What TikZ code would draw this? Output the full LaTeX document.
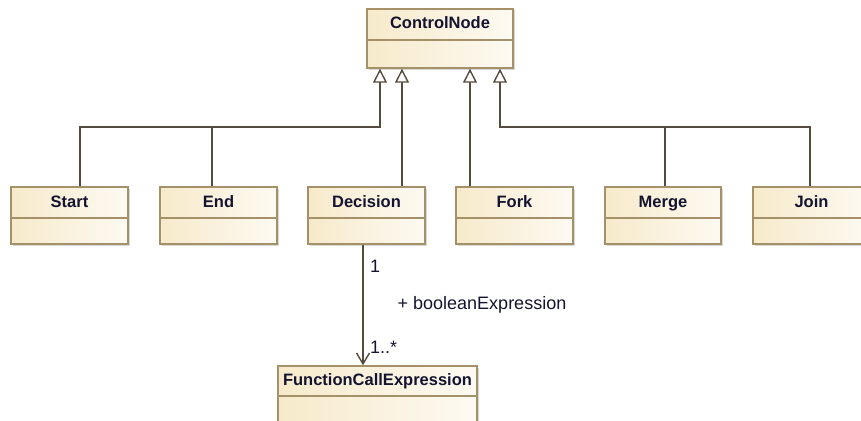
\documentclass[tikz,border=0pt]{standalone}
\usepackage{fontspec}
\setmainfont{Liberation Sans}
\usetikzlibrary{arrows.meta,fit,shadows}
\definecolor{bord}{RGB}{165,145,105}
\definecolor{fillL}{RGB}{247,234,203}
\definecolor{fillR}{RGB}{253,250,242}
\definecolor{lnk}{RGB}{85,75,60}
\definecolor{txt}{RGB}{20,20,48}
\tikzset{
  cls/.style={draw=bord, line width=1.4pt, inner sep=0pt, left color=fillL, right color=fillR,
    drop shadow={shadow xshift=1.5pt, shadow yshift=-1.5pt, opacity=0.25, fill=black!60}},
  divl/.style={draw=bord, line width=1.3pt},
  ttl/.style={font=\bfseries\fontsize{16.5}{18}\selectfont, text=txt, inner sep=0pt, text height=12pt, text depth=3pt},
  lbl/.style={font=\fontsize{18}{20}\selectfont, text=txt, inner sep=0pt},
  gen/.style={draw=lnk, line width=1.4pt, -{Triangle[open, length=14pt, width=14pt, fill=white]}},
  con/.style={draw=lnk, line width=1.4pt},
  assoc/.style={draw=lnk, line width=1.4pt, -{Straight Barb[length=11pt, width=13pt]}}
}
\newcommand\umlcls[7]{%
  \node[cls, fit={(#2,#3)(#4,#5)}] (#1) {};
  \draw[divl] (#2,#6) -- (#4,#6);
  \node[ttl] (#1-t) at ({(#2+#4)/2},{(#3+#6)/2}) {#7};
}
\begin{document}
\begin{tikzpicture}[x=1pt, y=-1pt]
\useasboundingbox (0,0) rectangle (861,420);
\clip (0,0) rectangle (861,420);
\umlcls{cn}{367}{9}{513}{68}{40}{ControlNode}
\umlcls{start}{11}{187}{128}{244}{218}{Start}
\umlcls{end}{160}{187}{277}{244}{218}{End}
\umlcls{dec}{308}{187}{425}{244}{218}{Decision}
\umlcls{fork}{456}{187}{573}{244}{218}{Fork}
\umlcls{merge}{605}{187}{721}{244}{218}{Merge}
\umlcls{join}{753}{187}{870}{244}{218}{Join}
\umlcls{fce}{278}{366}{477}{440}{396}{FunctionCallExpression}
\coordinate (jl) at (380,127);
\coordinate (jr) at (500,127);
% generalizations
\draw[gen] ([xshift=10.5pt]start.north) |- (jl) -- ([xshift=-60pt]cn.south);
\draw[con] ([xshift=-6.5pt]end.north) |- (jl);
\draw[gen] ([xshift=35.5pt]dec.north) -- ([xshift=-38pt]cn.south);
\draw[gen] ([xshift=-44.5pt]fork.north) -- ([xshift=30pt]cn.south);
\draw[gen] ([xshift=2pt]merge.north) |- (jr) -- ([xshift=60pt]cn.south);
\draw[con] ([xshift=-1.5pt]join.north) |- (jr);
% association
\draw[assoc] ([xshift=-3.5pt]dec.south) -- ([xshift=-14.5pt]fce.north);
\node[lbl, anchor=west] (m1) at (370,266) {1};
\node[lbl] (role) at (482,305) {+ booleanExpression};
\node[lbl, anchor=west] (m2) at (370,347) {1..*};
\end{tikzpicture}
\end{document}
